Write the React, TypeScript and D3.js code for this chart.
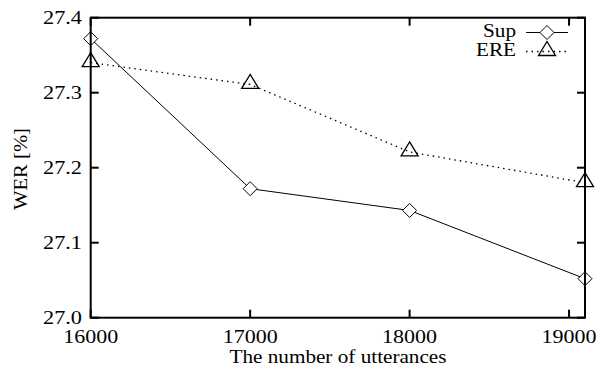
import React from "react";
import * as d3 from "d3";

const xValues = [16000, 17000, 18000, 19100];
const supValues = [27.372, 27.172, 27.143, 27.052];
const ereValues = [27.34, 27.311, 27.221, 27.18];
const xTicks = [16000, 17000, 18000, 19000];
const yTicks = [27.0, 27.1, 27.2, 27.3, 27.4];

const W = 596;
const H = 371;
const L = 90.7;
const R = 585;
const T = 17.7;
const B = 317.7;
const FONT = "Liberation Serif, Times New Roman, DejaVu Serif, serif";
const ts: React.CSSProperties = { fontFamily: FONT };

export default function App() {
  const x = d3.scaleLinear().domain([16000, 19100]).range([L, R]);
  const y = d3.scaleLinear().domain([27.0, 27.4]).range([B, T]);
  const line = d3
    .line<number>()
    .x((_, i) => x(xValues[i]))
    .y((d) => y(d));
  const tick = 8;
  const diamond = (cx: number, cy: number, s = 7) =>
    `M${cx},${cy - s}L${cx + s},${cy}L${cx},${cy + s}L${cx - s},${cy}Z`;
  const tri = (cx: number, cy: number) =>
    `M${cx},${cy - 10}L${cx + 8.5},${cy + 4}L${cx - 8.5},${cy + 4}Z`;

  return (
    <svg
      width={W}
      height={H}
      style={{ position: "absolute", left: 0, top: 0, background: "#fff" }}
    >
      {xTicks.map((t) => (
        <g key={"x" + t}>
          <line x1={x(t)} x2={x(t)} y1={B} y2={B - tick} stroke="#000" strokeWidth={2} />
          <line x1={x(t)} x2={x(t)} y1={T} y2={T + tick} stroke="#000" strokeWidth={2} />
          <text
            x={x(t)}
            y={343}
            textAnchor="middle"
            fontSize={19.5}
            style={ts}
            textLength={55}
            lengthAdjust="spacingAndGlyphs"
          >
            {t}
          </text>
        </g>
      ))}
      {yTicks.map((t) => (
        <g key={"y" + t}>
          <line x1={L} x2={L + tick} y1={y(t)} y2={y(t)} stroke="#000" strokeWidth={2} />
          <line x1={R} x2={R - tick} y1={y(t)} y2={y(t)} stroke="#000" strokeWidth={2} />
          <text
            x={82}
            y={y(t) + 6.5}
            textAnchor="end"
            fontSize={19.5}
            style={ts}
            textLength={39}
            lengthAdjust="spacingAndGlyphs"
          >
            {t.toFixed(1)}
          </text>
        </g>
      ))}
      <path d={line(supValues) || ""} fill="none" stroke="#000" strokeWidth={1} />
      <path
        d={line(ereValues) || ""}
        fill="none"
        stroke="#000"
        strokeWidth={1.3}
        strokeDasharray="1.5,4"
      />
      {supValues.map((v, i) => (
        <path key={"s" + i} d={diamond(x(xValues[i]), y(v))} fill="#fff" stroke="#000" strokeWidth={1} />
      ))}
      {ereValues.map((v, i) => (
        <path key={"e" + i} d={tri(x(xValues[i]), y(v))} fill="none" stroke="#000" strokeWidth={1.3} />
      ))}
      <rect x={L} y={T} width={R - L} height={B - T} fill="none" stroke="#000" strokeWidth={2} />
      <text x={516} y={37} textAnchor="end" fontSize={18} style={ts} textLength={33} lengthAdjust="spacingAndGlyphs">
        Sup
      </text>
      <line x1={526} x2={568} y1={32.5} y2={32.5} stroke="#000" strokeWidth={1} />
      <path d={diamond(547, 32.5)} fill="#fff" stroke="#000" strokeWidth={1} />
      <text x={516} y={56} textAnchor="end" fontSize={18} style={ts} textLength={40} lengthAdjust="spacingAndGlyphs">
        ERE
      </text>
      <line x1={526} x2={568} y1={51.5} y2={51.5} stroke="#000" strokeWidth={1.3} strokeDasharray="1.5,4" />
      <path d={tri(547, 51.5)} fill="none" stroke="#000" strokeWidth={1.3} />
      <text
        x={338}
        y={363}
        textAnchor="middle"
        fontSize={18}
        style={ts}
        textLength={217}
        lengthAdjust="spacingAndGlyphs"
      >
        The number of utterances
      </text>
      <text
        transform={`translate(27,169) rotate(-90)`}
        textAnchor="middle"
        fontSize={19}
        style={ts}
        textLength={82}
        lengthAdjust="spacingAndGlyphs"
      >
        WER [%]
      </text>
    </svg>
  );
}
